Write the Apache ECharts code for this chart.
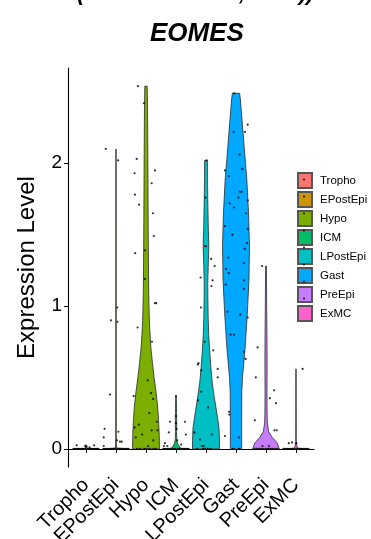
<!DOCTYPE html>
<html>
<head>
<meta charset="utf-8">
<script src="https://cdn.jsdelivr.net/npm/echarts@6/dist/echarts.min.js"></script>
<style>html,body{margin:0;padding:0;background:#fff}#chart{width:371px;height:539px}</style>
</head>
<body>
<div id="chart"></div>
<script>
const FONT = '"Liberation Sans", Arial, Helvetica, sans-serif';
const geneName = 'EOMES';
const yAxisTitle = 'Expression Level';
const categories = ['Tropho', 'EPostEpi', 'Hypo', 'ICM', 'LPostEpi', 'Gast', 'PreEpi', 'ExMC'];
const colors = ['#F8766D', '#CD9600', '#7CAE00', '#00BE67', '#00BFC4', '#00A9FF', '#C77CFF', '#FF61CC'];
const yTicks = [0, 1, 2];

// violin outlines: [expression value, relative half-width 0..1]
const violinTropho   = [[0,1],[0.004,0.04],[0.03,0.0]];
const violinEPostEpi = [[0,1],[0.005,0.06],[0.02,0.03],[0.1,0.02],[0.5,0.015],[1.0,0.015],[1.5,0.012],[2.1,0.01]];
const violinHypo     = [[0,1],[0.1,0.98],[0.2,0.93],[0.3,0.86],[0.4,0.74],[0.5,0.6],[0.6,0.48],[0.7,0.37],[0.8,0.3],[0.9,0.25],[1.0,0.22],[1.1,0.2],[1.3,0.18],[1.6,0.16],[2.0,0.14],[2.3,0.12],[2.54,0.09]];
const violinICM      = [[0,1],[0.004,0.35],[0.02,0.22],[0.04,0.1],[0.07,0.05],[0.12,0.04],[0.2,0.05],[0.28,0.04],[0.37,0.02]];
const violinLPostEpi = [[0,1],[0.06,1.0],[0.15,0.96],[0.27,0.77],[0.37,0.6],[0.46,0.47],[0.57,0.36],[0.69,0.27],[0.8,0.2],[0.92,0.16],[1.05,0.14],[1.16,0.13],[1.3,0.17],[1.42,0.21],[1.55,0.17],[1.75,0.13],[1.9,0.11],[2.02,0.1]];
const violinGast     = [[0,0.42],[0.2,0.42],[0.4,0.43],[0.5,0.48],[0.7,0.67],[0.95,0.84],[1.18,0.96],[1.42,1.0],[1.65,0.93],[1.89,0.8],[2.12,0.6],[2.36,0.4],[2.45,0.32],[2.49,0.27]];
const violinPreEpi   = [[0,1],[0.01,0.95],[0.045,0.8],[0.08,0.46],[0.12,0.2],[0.18,0.1],[0.25,0.08],[0.4,0.07],[0.6,0.08],[0.8,0.07],[1.0,0.05],[1.28,0.03]];
const violinExMC     = [[0,1],[0.004,0.15],[0.02,0.06],[0.05,0.02],[0.3,0.015],[0.56,0.01]];

// jittered cells: [horizontal jitter within category, expression value]
const cellsTropho = [[-0.4,0],[-0.34,0],[-0.28,0],[-0.22,0],[-0.16,0],[-0.1,0],[-0.05,0],[0.01,0],[0.06,0],[0.11,0],[0.17,0],[0.23,0],[0.29,0],[0.35,0],[0.4,0],[-0.31,0.025],[-0.03,0.02],[0.02,0.015],[0.12,0.01],[0.27,0.025]];
const cellsEPostEpi = [[-0.34,2.1],[0.07,2.02],[0.04,0.99],[-0.17,0.9],[0.05,0.89],[-0.2,0.38],[-0.38,0.14],[0.08,0.12],[-0.41,0.08],[0.13,0.05],[0.19,0.05],[0.03,0.06],[-0.41,0.02],[-0.4,0],[-0.33,0],[-0.27,0],[-0.2,0],[-0.13,0],[-0.07,0],[0,0],[0.06,0],[0.12,0],[0.18,0],[0.24,0],[0.3,0],[0.36,0],[0.41,0]];
const cellsHypo = [[-0.27,2.54],[-0.07,2.42],[-0.31,2.03],[0.3,1.95],[-0.38,1.93],[0.19,1.86],[-0.37,1.78],[-0.23,1.71],[0.23,1.65],[0.26,1.49],[-0.03,1.39],[-0.36,1.37],[-0.04,1.19],[0.3,1.02],[0.34,1.02],[-0.28,0.85],[0.2,0.75],[0.06,0.48],[0.17,0.39],[-0.41,0.37],[0.24,0.35],[0.11,0.25],[-0.24,0.17],[0.36,0.19],[-0.38,0.15],[-0.13,0.1],[0.19,0.13],[0.38,0.13],[-0.34,0.08],[0.24,0.06],[0.07,0.02],[-0.3,0],[-0.2,0],[-0.05,0],[0.02,0],[0.12,0],[0.25,0],[0.33,0]];
const cellsICM = [[0,0.37],[0,0.23],[-0.2,0.19],[0.3,0.19],[0,0.18],[-0.24,0.115],[0.33,0.1],[0.02,0.14],[0.04,0.06],[-0.37,0.04],[-0.29,0.02],[-0.4,0.02],[0.17,0.03],[-0.41,0],[-0.34,0],[-0.26,0],[-0.18,0],[-0.1,0],[-0.03,0],[0.05,0],[0.12,0],[0.2,0],[0.27,0],[0.35,0],[0.41,0]];
const cellsLPostEpi = [[0.02,2.02],[-0.02,1.76],[-0.03,1.42],[0.0,1.42],[0.17,1.33],[0.29,1.28],[-0.18,1.2],[0.22,1.18],[0.18,1.14],[-0.17,0.99],[-0.04,0.75],[0.24,0.69],[-0.25,0.6],[-0.27,0.59],[0.39,0.56],[-0.16,0.55],[0.39,0.5],[-0.16,0.4],[-0.27,0.34],[0.07,0.29],[-0.39,0.115],[0.19,0.1],[-0.2,0.065],[-0.14,0.02],[-0.08,0.02],[-0.3,0],[-0.1,0],[-0.05,0],[0.05,0],[0.15,0]];
const cellsGast = [[-0.06,2.49],[0.39,2.27],[-0.08,2.22],[0.3,2.22],[0.12,2.06],[0.21,1.96],[-0.37,1.95],[-0.24,1.91],[0.13,1.8],[0.19,1.8],[0.08,1.76],[-0.21,1.72],[-0.07,1.69],[0.39,1.74],[0.34,1.65],[-0.37,1.56],[0.39,1.54],[-0.12,1.5],[0.37,1.44],[0.29,1.4],[-0.26,1.34],[0.26,1.3],[-0.33,1.26],[-0.24,1.23],[0.27,1.18],[-0.34,1.15],[0.26,1.12],[-0.28,0.96],[0.14,0.94],[0.39,0.92],[-0.18,0.8],[-0.07,0.8],[0.26,0.68],[0.32,0.63],[-0.23,0.26],[-0.22,0.24],[-0.37,0.09],[0.1,0.08],[-0.1,0],[0.1,0]];
const cellsPreEpi = [[-0.13,1.28],[-0.28,0.71],[-0.34,0.5],[0.27,0.41],[0.13,0.355],[0.33,0.32],[-0.37,0.2],[0.28,0.13],[0.36,0.13],[-0.38,0],[-0.3,0],[-0.22,0],[-0.15,0],[-0.08,0],[0,0],[0.07,0],[0.14,0],[0.21,0],[0.29,0],[0.37,0],[-0.12,0.02],[0.1,0.02]];
const cellsExMC = [[0.22,0.56],[-0.24,0.04],[-0.13,0.045],[0.01,0.04],[-0.41,0],[-0.34,0],[-0.27,0],[-0.2,0],[-0.12,0],[-0.05,0],[0.03,0],[0.1,0],[0.17,0],[0.24,0],[0.31,0],[0.38,0]];

const violins = [violinTropho, violinEPostEpi, violinHypo, violinICM, violinLPostEpi, violinGast, violinPreEpi, violinExMC];
const cells = [cellsTropho, cellsEPostEpi, cellsHypo, cellsICM, cellsLPostEpi, cellsGast, cellsPreEpi, cellsExMC];

const HALF = 0.45;
const chart = echarts.init(document.getElementById('chart'), null, {renderer: 'canvas'});

function violinRenderer(profile, color) {
  return function (params, api) {
    const cx = api.value(0);
    const left = profile.map(p => api.coord([cx - p[1] * HALF, p[0]]));
    const right = profile.slice().reverse().map(p => api.coord([cx + p[1] * HALF, p[0]]));
    return {
      type: 'polygon',
      shape: {points: left.concat(right)},
      style: {fill: color, stroke: '#2b2b2b', lineWidth: 0.8}
    };
  };
}

const violinSeries = categories.map((c, i) => ({
  type: 'custom',
  name: c,
  itemStyle: {color: colors[i], borderColor: '#555', borderWidth: 0.8},
  renderItem: violinRenderer(violins[i], colors[i]),
  data: [[i + 1]],
  silent: true,
  z: 2,
  clip: false
}));

const pointData = [];
cells.forEach((arr, i) => arr.forEach(p => pointData.push([i + 1 + p[0], p[1]])));

const legendTop = 172, legendLeft = 297, keyW = 14, keyH = 15, keyGap = 2;
const legendDots = categories.map((c, i) => ({
  type: 'circle',
  shape: {cx: legendLeft + keyW / 2, cy: legendTop + keyH / 2 + i * (keyH + keyGap), r: 0.9},
  style: {fill: '#000'},
  z: 100
}));

chart.setOption({
  animation: false,
  textStyle: {fontFamily: FONT},
  title: {
    text: geneName, left: 145, top: 16,
    textStyle: {fontFamily: FONT, fontSize: 26, fontWeight: 'bold', fontStyle: 'italic', color: '#000'}
  },
  grid: {left: 68, right: 57, top: 68, bottom: 72, containLabel: false, outerBoundsMode: 'none'},
  legend: {
    orient: 'vertical', left: legendLeft, top: legendTop, padding: 0,
    itemWidth: keyW, itemHeight: keyH, itemGap: keyGap,
    icon: 'rect',
    data: categories,
    textStyle: {fontFamily: FONT, fontSize: 11.5, color: '#000', padding: [0, 0, 0, 3]},
    selectedMode: false
  },
  xAxis: {
    type: 'value', min: 0.4, max: 8.6,
    axisLine: {lineStyle: {color: '#000', width: 1.1}},
    axisTick: {show: true, customValues: [1,2,3,4,5,6,7,8], length: 4, lineStyle: {color: '#000', width: 1}},
    axisLabel: {
      customValues: [1,2,3,4,5,6,7,8], rotate: 45, margin: 15,
      formatter: v => categories[Math.round(v) - 1],
      fontFamily: FONT, fontSize: 20, color: '#000'
    },
    splitLine: {show: false}
  },
  yAxis: {
    type: 'value', min: -0.127, max: 2.667,
    name: yAxisTitle, nameLocation: 'middle', nameGap: 29,
    nameTextStyle: {fontFamily: FONT, fontSize: 24, color: '#000'},
    axisLine: {show: true, lineStyle: {color: '#000', width: 1.1}},
    axisTick: {show: true, customValues: yTicks, length: 4, lineStyle: {color: '#000', width: 1}},
    axisLabel: {customValues: yTicks, margin: 6, fontFamily: FONT, fontSize: 19, color: '#000'},
    splitLine: {show: false}
  },
  graphic: legendDots.concat([
    {type: 'text', left: 77, top: -17, style: {text: '(', font: 'italic bold 22px ' + FONT, fill: '#000'}},
    {type: 'text', left: 239, top: -17, style: {text: ',', font: 'italic bold 22px ' + FONT, fill: '#000'}},
    {type: 'text', left: 299, top: -17, style: {text: '))', font: 'italic bold 22px ' + FONT, fill: '#000'}}
  ]),
  series: violinSeries.concat([{
    type: 'scatter',
    name: 'cells',
    data: pointData,
    symbolSize: 2.2,
    itemStyle: {color: '#000'},
    silent: true,
    z: 5
  }])
});
</script>
</body>
</html>
